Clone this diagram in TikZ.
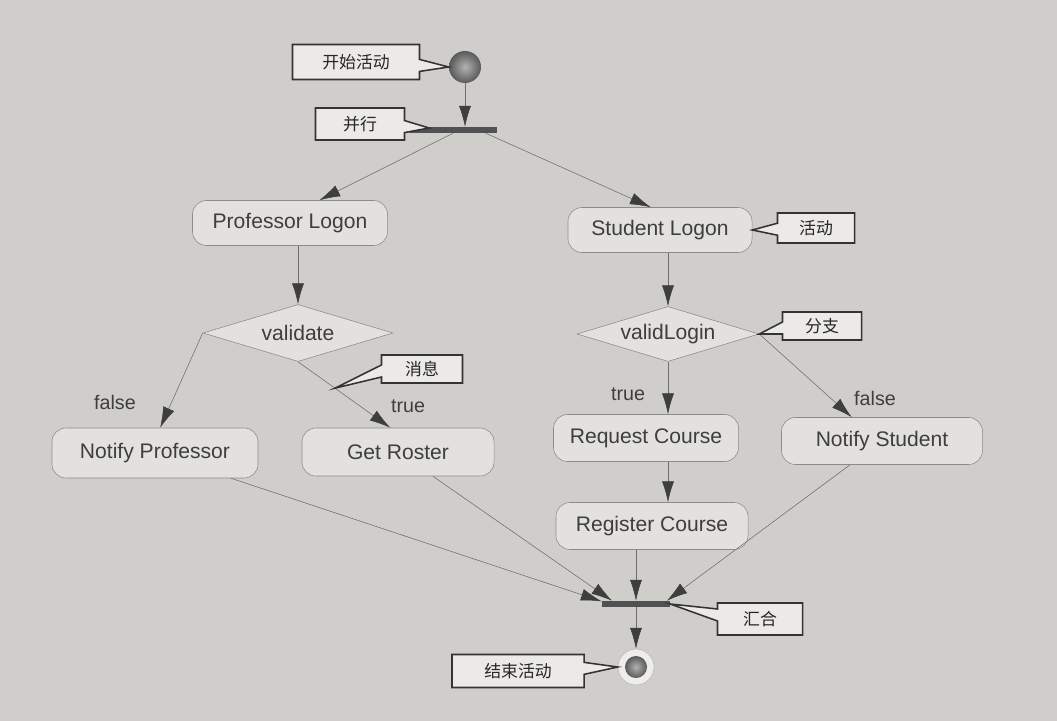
\documentclass[tikz,border=0pt]{standalone}
\usepackage{fontspec}
\setmainfont{Liberation Sans}
\newfontfamily\cjk{Noto Sans CJK SC}
\usetikzlibrary{shapes.geometric,shapes.callouts,arrows.meta,calc}

\definecolor{bgcol}{RGB}{208,206,202}
\definecolor{boxcol}{RGB}{226,225,222}
\definecolor{linecol}{RGB}{110,110,110}
\definecolor{inkcol}{RGB}{62,62,62}

\tikzset{
  activity/.style={draw=linecol!80, fill=boxcol, rounded corners=0.35cm, text=inkcol,
    font=\fontsize{15}{18}\selectfont, inner sep=0pt},
  branch/.style={diamond, draw=linecol!80, fill=boxcol, aspect=3.3, inner sep=0pt,
    text=inkcol, font=\fontsize{15}{18}\selectfont},
  bar/.style={rectangle, fill=inkcol!90, minimum height=0.15cm, inner sep=0pt},
  dot/.style={circle, inner sep=0pt, inner color=gray!60, outer color=black!65},
  note/.style={rectangle callout, draw=black!80, line width=1.1pt, fill=boxcol!70!white,
    font=\cjk\fontsize{12}{14}\selectfont, text=black!85, callout pointer width=0.3cm},
  flow/.style={draw=linecol, -{Latex[length=0.52cm,width=0.3cm,color=inkcol]}},
  guard/.style={text=inkcol, font=\fontsize{14}{16}\selectfont},
}

\begin{document}
\begin{tikzpicture}[x=0.025cm,y=-0.025cm]

\useasboundingbox (0,0) rectangle (1057,721);
\fill[bgcol] (0,0) rectangle (1057,721);

%% start, fork, join, end
\node[dot, minimum size=0.8cm] (start) at (465,67) {};
\node[bar, minimum width=2.175cm] (fork) at (453,130) {};
\node[bar, minimum width=1.7cm] (join) at (636,604) {};
\node[circle, draw=linecol!50, fill=boxcol!60!white, minimum size=0.9cm] (end) at (636,667) {};
\node[dot, minimum size=0.55cm] (endcore) at (end) {};

%% activities
\node[activity, minimum width=4.875cm, minimum height=1.125cm] (pl) at (290,223) {Professor Logon};
\node[activity, minimum width=4.6cm, minimum height=1.125cm] (sl) at (660,230) {Student Logon};
\node[activity, minimum width=5.15cm, minimum height=1.25cm] (np) at (155,453) {Notify Professor};
\node[activity, minimum width=4.8cm, minimum height=1.2cm] (gr) at (398,452) {Get Roster};
\node[activity, minimum width=4.625cm, minimum height=1.175cm] (rc) at (646,438) {Request Course};
\node[activity, minimum width=5.025cm, minimum height=1.175cm] (ns) at (882,441) {Notify Student};
\node[activity, minimum width=4.8cm, minimum height=1.175cm] (reg) at (652,526) {Register Course};

%% decisions
\node[branch, minimum width=4.75cm, minimum height=1.425cm] (val) at (298,333) {validate};
\node[branch, minimum width=4.55cm, minimum height=1.375cm] (vl) at (668,334) {validLogin};

%% guards
\node[guard] (gf1) at (115,402) {false};
\node[guard] (gt1) at (408,406) {true};
\node[guard] (gt2) at (628,394) {true};
\node[guard] (gf2) at (875,398) {false};

%% edges
\draw[flow] (start) -- (start |- fork.north);
\draw[flow] (fork.south) -- ($(pl.north)!0.3!(pl.north east)$);
\draw[flow] ($(fork.south)!0.75!(fork.south east)$) -- ($(sl.north)!0.1!(sl.north west)$);
\draw[flow] (pl.south -| val) -- (val.north);
\draw[flow] (sl.south -| vl) -- (vl.north);
\draw[flow] (val.west) -- ($(np.north)!0.05!(np.north east)$);
\draw[flow] (val.south) -- coordinate[pos=0.4] (msg) ($(gr.north)!0.08!(gr.north west)$);
\draw[flow] (vl.south) -- (vl.south |- rc.north);
\draw[flow] (vl.east) -- ($(ns.north)!0.3!(ns.north west)$);
\draw[flow] (rc.south -| vl) -- (reg.north -| vl);
\draw[flow] (np) -- ($(join.north west)!0.1!(join.south west)$);
\draw[flow] (gr) -- ($(join.north)!0.7!(join.north west)$);
\draw[flow] (reg.south -| join) -- (join.north);
\draw[flow] (ns) -- ($(join.north east)!0.1!(join.north)$);
\draw[flow] (join.south) -- (end.north);

%% notes
\node[note, minimum width=3.175cm, minimum height=0.875cm, callout absolute pointer={(start.west)}] (cstart) at (356,62) {开始活动};
\node[note, minimum width=2.225cm, minimum height=0.8cm, callout absolute pointer={($(fork.west)+(20,-2)$)}] (cfork) at (360,124) {并行};
\node[note, minimum width=1.925cm, minimum height=0.75cm, callout absolute pointer={(sl.east)}] (cact) at (816,228) {活动};
\node[note, minimum width=1.975cm, minimum height=0.7cm, callout absolute pointer={(vl.east)}] (cbranch) at (822,326) {分支};
\node[note, minimum width=2.025cm, minimum height=0.7cm, callout absolute pointer={(msg)}] (cmsg) at (422,369) {消息};
\node[note, minimum width=2.125cm, minimum height=0.8cm, callout absolute pointer={(join.east)}] (cjoin) at (760,619) {汇合};
\node[note, minimum width=3.3cm, minimum height=0.825cm, callout absolute pointer={(end.west)}] (cend) at (518,671) {结束活动};

\end{tikzpicture}
\end{document}
